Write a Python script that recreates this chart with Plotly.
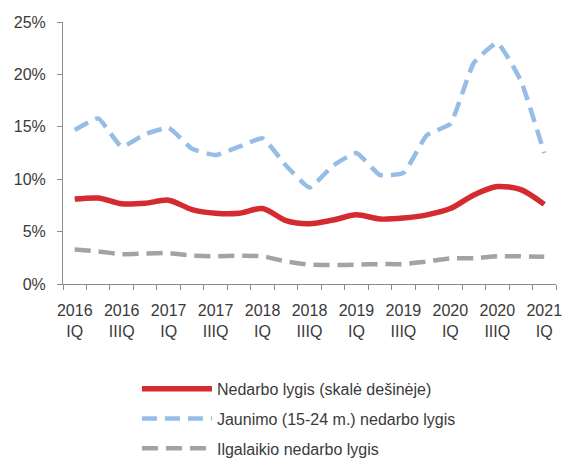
import plotly.graph_objects as go

# Quarterly labels, 2016 IQ .. 2021 IQ
years = [2016, 2016, 2016, 2016, 2017, 2017, 2017, 2017, 2018, 2018, 2018, 2018,
         2019, 2019, 2019, 2019, 2020, 2020, 2020, 2020, 2021]
quarters = ["IQ", "IIQ", "IIIQ", "IVQ"] * 5 + ["IQ"]

# Unemployment rate (%)
unemployment = [8.1, 8.2, 7.65, 7.7, 8.0, 7.1, 6.75, 6.75, 7.2, 6.05, 5.75,
                6.1, 6.6, 6.2, 6.3, 6.6, 7.2, 8.5, 9.3, 9.0, 7.6]
# Youth (15-24) unemployment rate (%)
youth = [14.7, 15.8, 13.1, 14.3, 14.9, 12.9, 12.3, 13.1, 13.9, 11.3, 9.2,
         11.3, 12.5, 10.4, 10.6, 14.2, 15.3, 21.1, 23.0, 19.4, 12.5]
# Long-term unemployment rate (%)
long_term = [3.3, 3.1, 2.85, 2.9, 2.95, 2.7, 2.65, 2.7, 2.65, 2.15, 1.85,
             1.8, 1.85, 1.9, 1.9, 2.15, 2.45, 2.45, 2.65, 2.65, 2.6]

names = ["Nedarbo lygis (skalė dešinėje)",
         "Jaunimo (15-24 m.) nedarbo lygis",
         "Ilgalaikio nedarbo lygis"]

x = list(range(len(years)))
tick_idx = x[::2]
tick_text = [f"{years[i]}<br>{quarters[i]}" for i in tick_idx]

FONT = "Liberation Sans, Arial, sans-serif"
AXIS = "#8c8c8c"
TEXT = "#3a3a3a"

fig = go.Figure()
fig.add_trace(go.Scatter(
    x=x, y=unemployment, name=names[0], mode="lines", legendgroup="a",
    line=dict(color="#d42b30", width=5.5, shape="spline", smoothing=0.8)))
fig.add_trace(go.Scatter(
    x=x, y=youth, name=names[1], mode="lines", legendgroup="b",
    line=dict(color="#95bde6", width=4.5, shape="spline", smoothing=0.4,
              dash="15px,8px")))
fig.add_trace(go.Scatter(
    x=x, y=long_term, name=names[2], mode="lines", legendgroup="c",
    line=dict(color="#a3a3a3", width=4.5, shape="spline", smoothing=0.4,
              dash="16px,8px")))

fig.update_layout(
    width=562, height=460,
    margin=dict(l=63, r=6, t=22, b=176, autoexpand=False),
    paper_bgcolor="white", plot_bgcolor="white",
    font=dict(family=FONT, size=16, color=TEXT),
    showlegend=True,
    legend=dict(
        orientation="v", x=0.15, xanchor="left", y=-0.335, yanchor="top",
        font=dict(family=FONT, size=16, color=TEXT),
        itemwidth=70, tracegroupgap=6, traceorder="grouped",
        bgcolor="rgba(0,0,0,0)"),
)
fig.update_xaxes(
    range=[-0.5, len(x) - 0.5], tickvals=tick_idx, ticktext=tick_text,
    ticks="", showgrid=False, zeroline=False, automargin=False,
    ticklabeloverflow="allow", ticklabelstandoff=12,
    showline=True, linecolor=AXIS, linewidth=1,
    tickfont=dict(family=FONT, size=16, color=TEXT),
    minor=dict(ticks="outside", tick0=-0.5, dtick=1, ticklen=5,
               tickcolor=AXIS, tickwidth=1, showgrid=False),
)
fig.update_yaxes(
    range=[0, 25], dtick=5, ticksuffix="%", ticks="outside", ticklen=5,
    tickcolor=AXIS, showgrid=False, zeroline=False, automargin=False,
    ticklabelstandoff=8,
    showline=True, linecolor=AXIS, linewidth=1,
    tickfont=dict(family=FONT, size=16, color=TEXT),
)

fig.write_html("out.html")
